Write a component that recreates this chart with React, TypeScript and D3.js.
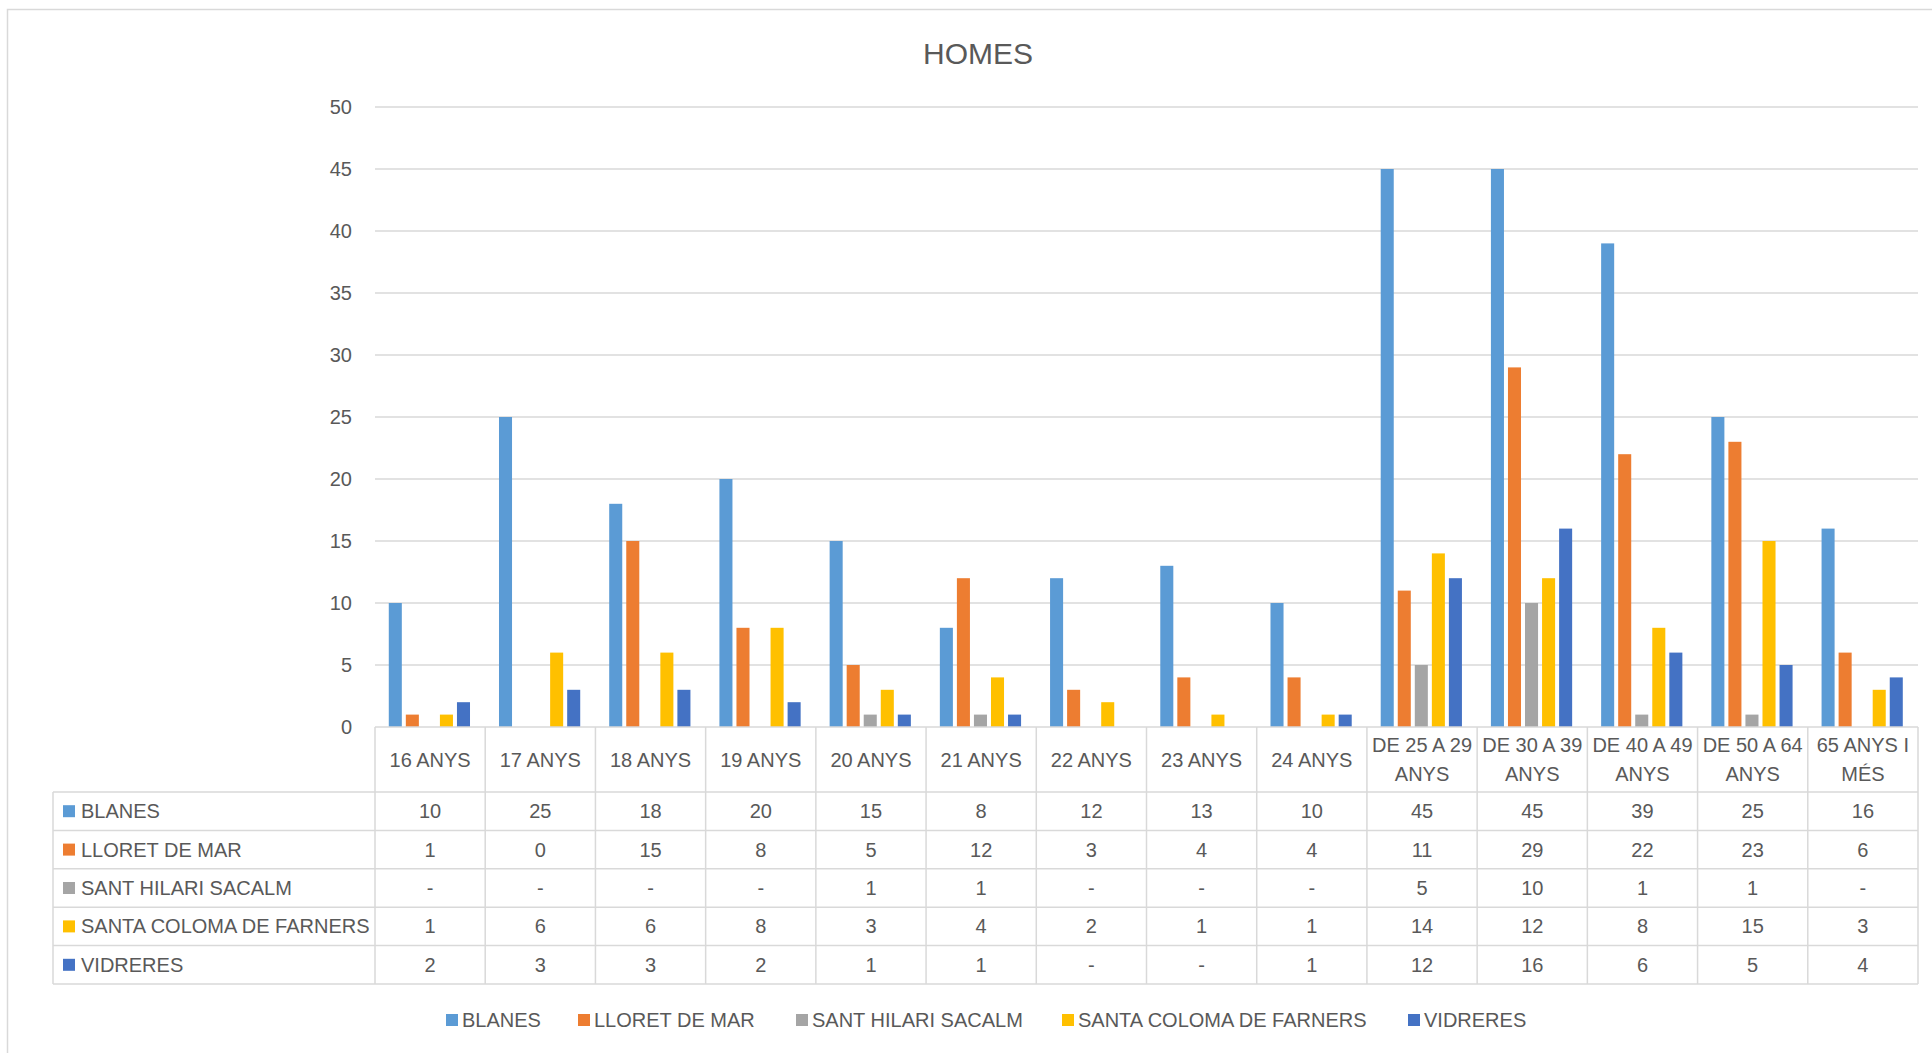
import React from 'react';
import * as d3 from 'd3';

const categories: string[][] = [
  ['16 ANYS'],
  ['17 ANYS'],
  ['18 ANYS'],
  ['19 ANYS'],
  ['20 ANYS'],
  ['21 ANYS'],
  ['22 ANYS'],
  ['23 ANYS'],
  ['24 ANYS'],
  ['DE 25 A 29', 'ANYS'],
  ['DE 30 A 39', 'ANYS'],
  ['DE 40 A 49', 'ANYS'],
  ['DE 50 A 64', 'ANYS'],
  ['65 ANYS I', 'MÉS'],
];

const seriesNames = ['BLANES', 'LLORET DE MAR', 'SANT HILARI SACALM', 'SANTA COLOMA DE FARNERS', 'VIDRERES'];
const seriesColors = ['#5B9BD5', '#ED7D31', '#A5A5A5', '#FFC000', '#4472C4'];

const blanes = [10, 25, 18, 20, 15, 8, 12, 13, 10, 45, 45, 39, 25, 16];
const lloret = [1, 0, 15, 8, 5, 12, 3, 4, 4, 11, 29, 22, 23, 6];
const santHilari = [null, null, null, null, 1, 1, null, null, null, 5, 10, 1, 1, null];
const santaColoma = [1, 6, 6, 8, 3, 4, 2, 1, 1, 14, 12, 8, 15, 3];
const vidreres = [2, 3, 3, 2, 1, 1, null, null, 1, 12, 16, 6, 5, 4];

const seriesValues: (number | null)[][] = [blanes, lloret, santHilari, santaColoma, vidreres];

const yTicks = d3.range(0, 51, 5);

const FONT = '"Liberation Sans", Arial, sans-serif';
const TEXT = '#595959';
const GRID = '#D9D9D9';

const App: React.FC = () => {
  const plotLeft = 375;
  const plotRight = 1918;
  const plotTop = 107;
  const plotBottom = 727;
  const tableLeft = 53;
  const headerH = 65;
  const rowH = 38.4;

  const catKeys = categories.map((c) => c.join(' '));
  const x0 = d3.scaleBand<string>().domain(catKeys).range([plotLeft, plotRight]).padding(0);
  const bw = x0.bandwidth();
  const x1 = d3
    .scaleBand<string>()
    .domain(seriesNames)
    .range([bw * 0.125, bw * 0.862])
    .paddingInner(0.235)
    .paddingOuter(0);
  const y = d3.scaleLinear().domain([0, 50]).range([plotBottom, plotTop]);

  const tableTop = plotBottom;
  const rowsTop = tableTop + headerH;
  const tableBottom = rowsTop + rowH * seriesNames.length;

  // legend layout
  const legendX = [446, 578, 796, 1062, 1408];
  const legendY = 1020;

  return (
    <svg
      width={1932}
      height={1053}
      style={{ position: 'absolute', left: 0, top: 0, background: '#fff' }}
      fontFamily={FONT}
    >
      <rect x={7.5} y={9.5} width={1940} height={1060} fill="#fff" stroke={GRID} strokeWidth={1.5} />

      <text x={978} y={64} textAnchor="middle" fontSize={30} fill={TEXT}>
        HOMES
      </text>

      {/* grid + y labels */}
      {yTicks.map((t) => (
        <g key={t}>
          {t > 0 && (
            <line x1={plotLeft} x2={plotRight} y1={y(t)} y2={y(t)} stroke={GRID} strokeWidth={1.5} />
          )}
          <text x={352} y={y(t)} dy="0.35em" textAnchor="end" fontSize={20} fill={TEXT}>
            {t}
          </text>
        </g>
      ))}

      {/* bars */}
      {seriesValues.map((vals, si) => (
        <g key={seriesNames[si]} fill={seriesColors[si]}>
          {vals.map((v, ci) =>
            v == null || v === 0 ? null : (
              <rect
                key={ci}
                x={x0(catKeys[ci])! + x1(seriesNames[si])!}
                y={y(v)}
                width={x1.bandwidth()}
                height={y(0) - y(v)}
              />
            )
          )}
        </g>
      ))}

      {/* table */}
      <g stroke={GRID} strokeWidth={1.5}>
        <line x1={plotLeft} x2={plotRight} y1={tableTop} y2={tableTop} />
        {d3.range(seriesNames.length + 1).map((i) => (
          <line key={i} x1={tableLeft} x2={plotRight} y1={rowsTop + i * rowH} y2={rowsTop + i * rowH} />
        ))}
        {catKeys.map((k) => (
          <line key={k} x1={x0(k)!} x2={x0(k)!} y1={tableTop} y2={tableBottom} />
        ))}
        <line x1={plotRight} x2={plotRight} y1={tableTop} y2={tableBottom} />
        <line x1={tableLeft} x2={tableLeft} y1={rowsTop} y2={tableBottom} />
      </g>

      {categories.map((lines, ci) => {
        const cx = x0(catKeys[ci])! + bw / 2;
        const cy = tableTop + headerH / 2;
        return (
          <text key={ci} x={cx} textAnchor="middle" fontSize={20} fill={TEXT}>
            {lines.map((l, li) => (
              <tspan key={li} x={cx} y={cy + (li - (lines.length - 1) / 2) * 29} dy="0.35em">
                {l}
              </tspan>
            ))}
          </text>
        );
      })}

      {seriesNames.map((name, si) => {
        const cy = rowsTop + si * rowH + rowH / 2;
        return (
          <g key={name}>
            <rect x={63} y={cy - 6} width={12} height={12} fill={seriesColors[si]} />
            <text x={81} y={cy} dy="0.35em" fontSize={20} fill={TEXT}>
              {name}
            </text>
            {seriesValues[si].map((v, ci) => (
              <text
                key={ci}
                x={x0(catKeys[ci])! + bw / 2}
                y={cy}
                dy="0.35em"
                textAnchor="middle"
                fontSize={20}
                fill={TEXT}
              >
                {v == null ? '-' : v}
              </text>
            ))}
          </g>
        );
      })}

      {/* legend */}
      {seriesNames.map((name, si) => (
        <g key={name}>
          <rect x={legendX[si]} y={legendY - 6} width={12} height={12} fill={seriesColors[si]} />
          <text x={legendX[si] + 16} y={legendY} dy="0.35em" fontSize={20} fill={TEXT}>
            {name}
          </text>
        </g>
      ))}
    </svg>
  );
};

export default App;
